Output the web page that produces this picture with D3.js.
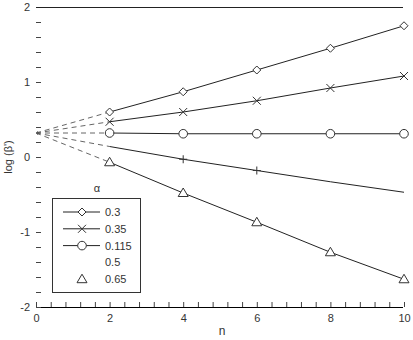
<!DOCTYPE html>
<html>
<head>
<meta charset="utf-8">
<script src="https://cdn.jsdelivr.net/npm/d3@7"></script>
<style>
  body { margin: 0; background: #fff; }
  text { font-family: "Liberation Sans", Arial, sans-serif; fill: #333; }
</style>
</head>
<body>
<div id="chart"></div>
<script>
// values
var nValues = [2, 4, 6, 8, 10];
var startValue = 0.32; // common start at n = 0
var alpha03 = [0.60, 0.87, 1.16, 1.45, 1.75];
var alpha035 = [0.47, 0.60, 0.75, 0.92, 1.08];
var alpha0115 = [0.32, 0.31, 0.31, 0.31, 0.31];
var alpha05 = [0.14, -0.03, -0.18, -0.33, -0.47];
var alpha065 = [-0.07, -0.48, -0.87, -1.27, -1.63];
var alpha05Marked = [4, 6]; // only these points show a marker
var legendLabels = ["0.3", "0.35", "0.115", "0.5", "0.65"];
var xTickLabels = [0, 2, 4, 6, 8, 10];
var yTickLabels = [-2, -1, 0, 1, 2];

var width = 413, height = 340;

var svg = d3.select("#chart").append("svg")
  .attr("width", width)
  .attr("height", height);

var x = d3.scaleLinear().domain([0, 10]).range([36, 404]);
var y = d3.scaleLinear().domain([-2, 2]).range([307, 7]);

// minor x ticks every 0.4, pointing up
var xMinor = d3.range(0, 10.001, 0.4).map(function(v) { return +v.toFixed(1); });
svg.append("g")
  .attr("transform", "translate(0," + y(-2) + ")")
  .call(d3.axisBottom(x).tickValues(xMinor).tickSize(-5).tickFormat(""))
  .call(function(g) {
    g.select(".domain").attr("d", "M" + x(0) + ",0.5H" + (x(10) - 1));
    g.selectAll("line").attr("stroke", "#444");
  });

svg.append("g")
  .attr("transform", "translate(0," + y(-2) + ")")
  .call(d3.axisBottom(x).tickValues(xTickLabels).tickSize(0).tickPadding(7))
  .call(function(g) {
    g.select(".domain").remove();
    g.selectAll("text").style("font-size", "11px").style("fill", "#333");
  });

// y minor ticks every 0.2, pointing right
var yMinor = d3.range(-2, 2.001, 0.2).map(function(v) { return +v.toFixed(1); });
svg.append("g")
  .attr("transform", "translate(" + x(0) + ",0)")
  .call(d3.axisLeft(y).tickValues(yMinor).tickSize(-5).tickFormat(""))
  .call(function(g) {
    g.select(".domain").remove();
    g.selectAll("line").attr("stroke", "#444");
  });

svg.append("g")
  .attr("transform", "translate(" + x(0) + ",0)")
  .call(d3.axisLeft(y).tickValues(yTickLabels).tickSize(0).tickPadding(6)
    .tickFormat(function(d) { return d; }))
  .call(function(g) {
    g.select(".domain").remove();
    g.selectAll("text").style("font-size", "11px").style("fill", "#333");
  });

// top frame line at y = 2
svg.append("line")
  .attr("x1", x(0)).attr("x2", x(10) - 1)
  .attr("y1", y(2) + 0.5).attr("y2", y(2) + 0.5)
  .attr("stroke", "#222");

svg.append("text")
  .attr("x", (x(0) + x(10)) / 2 + 2)
  .attr("y", 335)
  .attr("text-anchor", "middle")
  .style("font-size", "12px")
  .text("n");

svg.append("text")
  .attr("transform", "translate(12," + y(0) + ") rotate(-90)")
  .attr("text-anchor", "middle")
  .style("font-size", "11px")
  .text("log (β')");

var series = [
  { values: alpha03, marker: "diamond" },
  { values: alpha035, marker: "cross" },
  { values: alpha0115, marker: "circle" },
  { values: alpha05, marker: "plus" },
  { values: alpha065, marker: "triangle" }
];

var line = d3.line()
  .x(function(d) { return x(d[0]); })
  .y(function(d) { return y(d[1]); });

function drawMarker(g, type, cx, cy) {
  var m = g.append("g").attr("transform", "translate(" + cx + "," + cy + ")");
  var stroke = "#333";
  if (type == "diamond") {
    m.append("path").attr("d", "M0,-4L4,0L0,4L-4,0Z").attr("fill", "#fff").attr("stroke", stroke);
  } else if (type == "cross") {
    m.append("path").attr("d", "M-4,-4L4,4M-4,4L4,-4").attr("stroke", stroke).attr("fill", "none");
  } else if (type == "circle") {
    m.append("circle").attr("r", 4.3).attr("fill", "#fff").attr("stroke", stroke);
  } else if (type == "plus") {
    m.append("path").attr("d", "M-4,0L4,0M0,-4L0,4").attr("stroke", stroke).attr("fill", "none");
  } else if (type == "triangle") {
    m.append("path").attr("d", "M0,-5L5,3.5L-5,3.5Z").attr("fill", "#fff").attr("stroke", stroke);
  }
}

series.forEach(function(s) {
  var pts = nValues.map(function(n, i) { return [n, s.values[i]]; });
  // dashed run from the common start
  svg.append("path")
    .attr("d", line([[0, startValue], pts[0]]))
    .attr("fill", "none")
    .attr("stroke", "#666")
    .attr("stroke-width", 1)
    .attr("stroke-dasharray", "5,4");
  svg.append("path")
    .attr("d", line(pts))
    .attr("fill", "none")
    .attr("stroke", "#222")
    .attr("stroke-width", 1);
  pts.forEach(function(p) {
    if (s.marker == "plus" && alpha05Marked.indexOf(p[0]) < 0) return;
    drawMarker(svg, s.marker, x(p[0]), y(p[1]));
  });
});

// small mark at the common start
svg.append("path")
  .attr("d", "M" + (x(0) + 1) + "," + (y(startValue) - 2) + "l3,2l-3,2z")
  .attr("fill", "#555");

// legend
var legend = svg.append("g");
legend.append("rect")
  .attr("x", 52.5).attr("y", 198.5)
  .attr("width", 88).attr("height", 94)
  .attr("fill", "#fff").attr("stroke", "#333");
legend.append("text")
  .attr("x", 97).attr("y", 192)
  .attr("text-anchor", "middle")
  .style("font-size", "11px")
  .text("α");

var legendLine = [true, true, true, false, false];
var legendMark = [true, true, true, false, true];
legendLabels.forEach(function(lbl, i) {
  var cy = 212 + i * 16.8;
  if (legendLine[i]) {
    legend.append("line")
      .attr("x1", 63).attr("x2", 100)
      .attr("y1", cy).attr("y2", cy)
      .attr("stroke", "#222");
  }
  if (legendMark[i]) drawMarker(legend, series[i].marker, 82, cy);
  legend.append("text")
    .attr("x", 105).attr("y", cy + 4)
    .style("font-size", "11px")
    .text(lbl);
});
</script>
</body>
</html>
